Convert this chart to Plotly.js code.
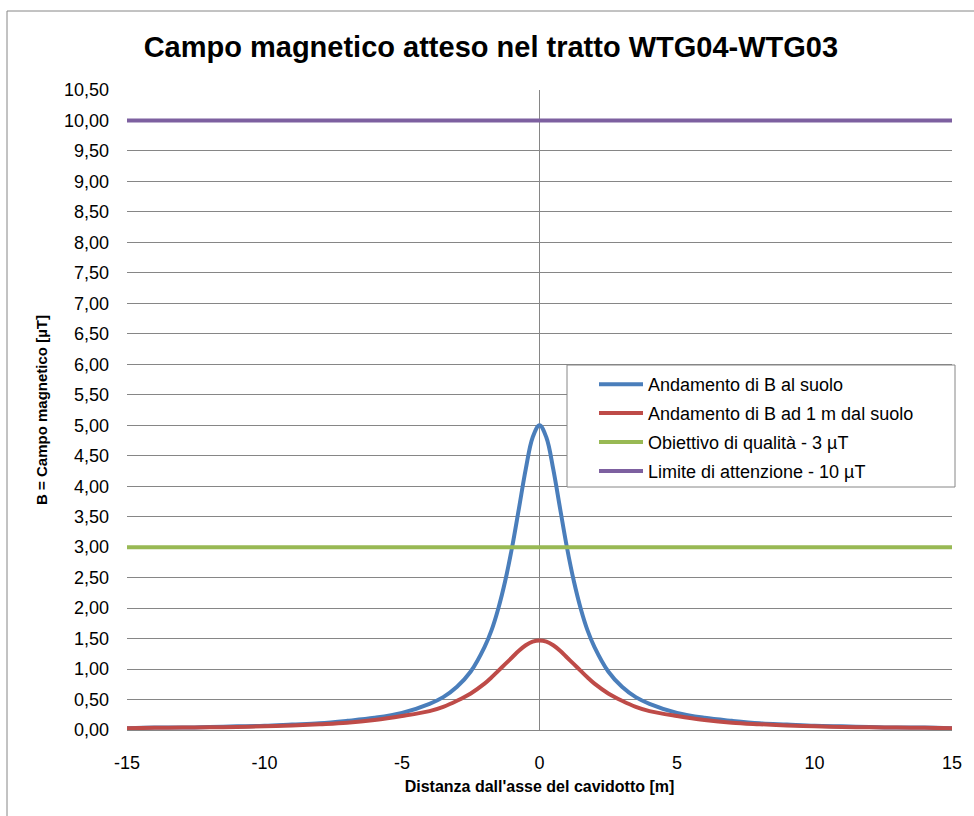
<!DOCTYPE html>
<html>
<head>
<meta charset="utf-8">
<script src="https://cdn.plot.ly/plotly-3.0.1.min.js"></script>
<style>
  html, body { margin: 0; padding: 0; background: #ffffff; }
  #chart { width: 974px; height: 816px; }
</style>
</head>
<body>
<div id="chart"></div>
<script>
// Distance from cable axis [m]
var distanza = [-15,-14,-13,-12,-11,-10,-9,-8,-7,-6,-5,-4,-3.5,-3,-2.5,-2,-1.75,-1.5,-1.25,-1,-0.75,-0.5,-0.25,0,0.25,0.5,0.75,1,1.25,1.5,1.75,2,2.5,3,3.5,4,5,6,7,8,9,10,11,12,13,14,15];
// B at ground level [µT]
var bSuolo = [0.03,0.04,0.04,0.05,0.06,0.07,0.09,0.11,0.15,0.20,0.28,0.43,0.54,0.71,0.96,1.36,1.63,1.99,2.44,2.99,3.63,4.28,4.80,5.00,4.80,4.28,3.63,2.99,2.44,1.99,1.63,1.36,0.96,0.71,0.54,0.43,0.28,0.20,0.15,0.11,0.09,0.07,0.06,0.05,0.04,0.04,0.03];
// B at 1 m above ground [µT]
var bUnMetro = [0.03,0.035,0.04,0.045,0.05,0.06,0.075,0.095,0.12,0.165,0.23,0.31,0.38,0.48,0.60,0.76,0.86,0.97,1.08,1.19,1.30,1.39,1.45,1.47,1.45,1.39,1.30,1.19,1.08,0.97,0.86,0.76,0.60,0.48,0.38,0.31,0.23,0.165,0.12,0.095,0.075,0.06,0.05,0.045,0.04,0.035,0.03];
// Reference limits
var limiteX = [-15, 15];
var obiettivoQualita = [3, 3];
var limiteAttenzione = [10, 10];
// Tick labels
var xTickVals = [-15, -10, -5, 0, 5, 10, 15];
var xTickText = ["-15", "-10", "-5", "0", "5", "10", "15"];

var seriesNames = [
  "Andamento di B al suolo",
  "Andamento di B ad 1 m dal suolo",
  "Obiettivo di qualità - 3 µT",
  "Limite di attenzione - 10 µT"
];

var FONT = "'Liberation Sans', Arial, sans-serif";
var GRID = "#868686";

var traces = [
  { x: distanza, y: bSuolo, name: seriesNames[0], legendgroup: "a", mode: "lines",
    line: { color: "#4A7EBB", width: 4, shape: "spline", smoothing: 1 } },
  { x: distanza, y: bUnMetro, name: seriesNames[1], legendgroup: "b", mode: "lines",
    line: { color: "#BE4B48", width: 4, shape: "spline", smoothing: 1 } },
  { x: limiteX, y: obiettivoQualita, name: seriesNames[2], legendgroup: "c", mode: "lines",
    line: { color: "#98B954", width: 4 } },
  { x: limiteX, y: limiteAttenzione, name: seriesNames[3], legendgroup: "d", mode: "lines",
    line: { color: "#7D60A0", width: 4 } }
];

// pixel helpers for the plot frame (margins are fixed below)
var L = 127, R = 952, T = 90, B = 730;
function px2x(p) { return (p - L) / (R - L); }
function px2y(p) { return (B - p) / (B - T); }

var layout = {
  width: 974, height: 816,
  margin: { l: L, r: 974 - R, t: T, b: 816 - B },
  paper_bgcolor: "#ffffff",
  plot_bgcolor: "#ffffff",
  separators: ",.",
  font: { family: FONT, color: "#000000", size: 18 },
  title: {
    text: "Campo magnetico atteso nel tratto WTG04-WTG03",
    font: { family: FONT, size: 29, weight: "bold", color: "#000000" },
    x: 0.504, xref: "container", xanchor: "center",
    y: 1 - 47 / 816, yref: "container", yanchor: "middle"
  },
  xaxis: {
    range: [-15, 15],
    tickmode: "array", tickvals: xTickVals, ticktext: xTickText,
    showgrid: false,
    zeroline: true, zerolinecolor: GRID, zerolinewidth: 1,
    showline: true, linecolor: GRID, linewidth: 1,
    ticks: "", ticklabelstandoff: 16,
    tickfont: { family: FONT, size: 18, color: "#000000" },
    automargin: false,
    title: { text: "Distanza dall'asse del cavidotto [m]", standoff: 9,
             font: { family: FONT, size: 16, weight: "bold", color: "#000000" } }
  },
  yaxis: {
    range: [0, 10.5],
    tick0: 0, dtick: 0.5, tickformat: ".2f",
    showgrid: true, gridcolor: GRID, gridwidth: 1,
    zeroline: false, showline: false,
    ticks: "", ticklabelstandoff: 17,
    tickfont: { family: FONT, size: 18, color: "#000000" },
    automargin: false,
    title: { text: "B = Campo magnetico [µT]", standoff: 12,
             font: { family: FONT, size: 15, weight: "bold", color: "#000000" } }
  },
  showlegend: true,
  legend: {
    x: px2x(594), y: px2y(366),
    xanchor: "left", yanchor: "top",
    bgcolor: "rgba(0,0,0,0)", borderwidth: 0,
    font: { family: FONT, size: 18, color: "#000000" },
    itemwidth: 44, tracegroupgap: 2.5,
    traceorder: "grouped"
  },
  shapes: [
    // outer chart frame
    { type: "rect", xref: "paper", yref: "paper",
      x0: px2x(7), x1: px2x(990), y0: px2y(840), y1: px2y(11),
      line: { color: GRID, width: 1 }, fillcolor: "rgba(0,0,0,0)", layer: "below" },
    // legend frame
    { type: "rect", xref: "paper", yref: "paper",
      x0: px2x(567), x1: px2x(955), y0: px2y(487), y1: px2y(365),
      line: { color: GRID, width: 1 }, fillcolor: "#ffffff", layer: "above" }
  ]
};

Plotly.newPlot("chart", traces, layout, { displayModeBar: false, responsive: false });
</script>
</body>
</html>
